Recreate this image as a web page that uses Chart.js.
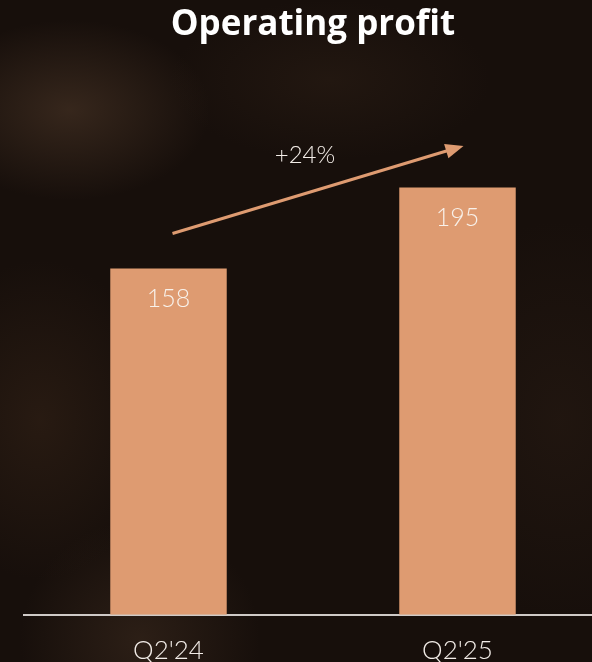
<!DOCTYPE html>
<html>
<head>
<meta charset="utf-8">
<script src="https://cdn.jsdelivr.net/npm/chart.js@4.4.0/dist/chart.umd.min.js"></script>
<style>
  html, body { margin: 0; padding: 0; overflow: hidden; }
  body {
    width: 592px; height: 662px; position: relative;
    background:
      radial-gradient(ellipse 140px 90px at 70px 110px, rgba(80,58,42,0.55), rgba(0,0,0,0)),
      radial-gradient(ellipse 120px 160px at 40px 420px, rgba(60,40,26,0.45), rgba(0,0,0,0)),
      radial-gradient(ellipse 160px 80px at 330px 80px, rgba(55,38,26,0.35), rgba(0,0,0,0)),
      radial-gradient(ellipse 120px 120px at 140px 640px, rgba(70,50,36,0.45), rgba(0,0,0,0)),
      radial-gradient(ellipse 140px 200px at 560px 420px, rgba(50,34,24,0.35), rgba(0,0,0,0)),
      #170f0b;
  }
  #title {
    position: absolute; left: 0; width: 626px; top: 1px;
    text-align: center; color: #ffffff;
    font-family: "Open Sans", "Noto Sans", sans-serif; font-weight: 700; font-size: 35px;
    line-height: 42px;
  }
  #wrap { position: absolute; left: 0; top: 0; width: 602px; height: 686px; }
</style>
</head>
<body>
<div id="wrap"><canvas id="chart" width="602" height="686"></canvas></div>
<div id="title">Operating profit</div>
<script>
  const categories = ["Q2'24", "Q2'25"];
  const values = [158, 195];
  const growthLabel = '+24%';
  const arrowValues = [174, 214];

  const BAR_COLOR = '#de9b71';

  const growthArrow = {
    id: 'growthArrow',
    afterDatasetsDraw(chart) {
      const { ctx, scales } = chart;
      const x1 = scales.x.getPixelForValue(0) + 4;
      const x2 = scales.x.getPixelForValue(1) + 6;
      const y1 = scales.y.getPixelForValue(arrowValues[0]);
      const y2 = scales.y.getPixelForValue(arrowValues[1]);
      const ang = Math.atan2(y2 - y1, x2 - x1);
      const head = 18, half = 7.5;
      ctx.save();
      ctx.strokeStyle = BAR_COLOR;
      ctx.fillStyle = BAR_COLOR;
      ctx.lineWidth = 3;
      ctx.beginPath();
      ctx.moveTo(x1, y1);
      ctx.lineTo(x2 - Math.cos(ang) * head * 0.8, y2 - Math.sin(ang) * head * 0.8);
      ctx.stroke();
      ctx.beginPath();
      ctx.moveTo(x2, y2);
      const bx = x2 - Math.cos(ang) * head, by = y2 - Math.sin(ang) * head;
      ctx.lineTo(bx + Math.sin(ang) * half, by - Math.cos(ang) * half);
      ctx.lineTo(bx - Math.sin(ang) * half, by + Math.cos(ang) * half);
      ctx.closePath();
      ctx.fill();
      // growth label
      ctx.fillStyle = '#f4eee9';
      ctx.font = '300 24px Lato, "Noto Sans", sans-serif';
      ctx.textAlign = 'center';
      ctx.textBaseline = 'middle';
      ctx.fillText(growthLabel, (x1 + x2) / 2 - 13, (y1 + y2) / 2 - 34);
      ctx.restore();
    }
  };

  const barLabels = {
    id: 'barLabels',
    afterDatasetsDraw(chart) {
      const { ctx } = chart;
      const meta = chart.getDatasetMeta(0);
      ctx.save();
      ctx.fillStyle = '#f8f1ea';
      ctx.font = '300 25px Lato, "Noto Sans", sans-serif';
      ctx.textAlign = 'center';
      ctx.textBaseline = 'middle';
      meta.data.forEach((bar, i) => {
        ctx.fillText(String(values[i]), bar.x, bar.y + 30);
      });
      ctx.restore();
    }
  };

  new Chart(document.getElementById('chart').getContext('2d'), {
    type: 'bar',
    data: {
      labels: categories,
      datasets: [{
        data: values,
        backgroundColor: BAR_COLOR,
        borderWidth: 0,
        barPercentage: 0.403,
        categoryPercentage: 1
      }]
    },
    options: {
      responsive: false,
      animation: false,
      layout: { padding: { left: 24, right: 0, top: 67, bottom: 0 } },
      plugins: {
        legend: { display: false },
        tooltip: { enabled: false }
      },
      scales: {
        x: {
          grid: { display: false, drawTicks: false },
          border: { display: true, color: '#cfcac7', width: 2 },
          ticks: {
            color: '#f2ece7',
            font: { family: 'Lato, "Noto Sans", sans-serif', size: 26, weight: '300' },
            padding: 20
          }
        },
        y: {
          display: false,
          min: 0,
          max: 250
        }
      }
    },
    plugins: [growthArrow, barLabels]
  });
</script>
</body>
</html>
